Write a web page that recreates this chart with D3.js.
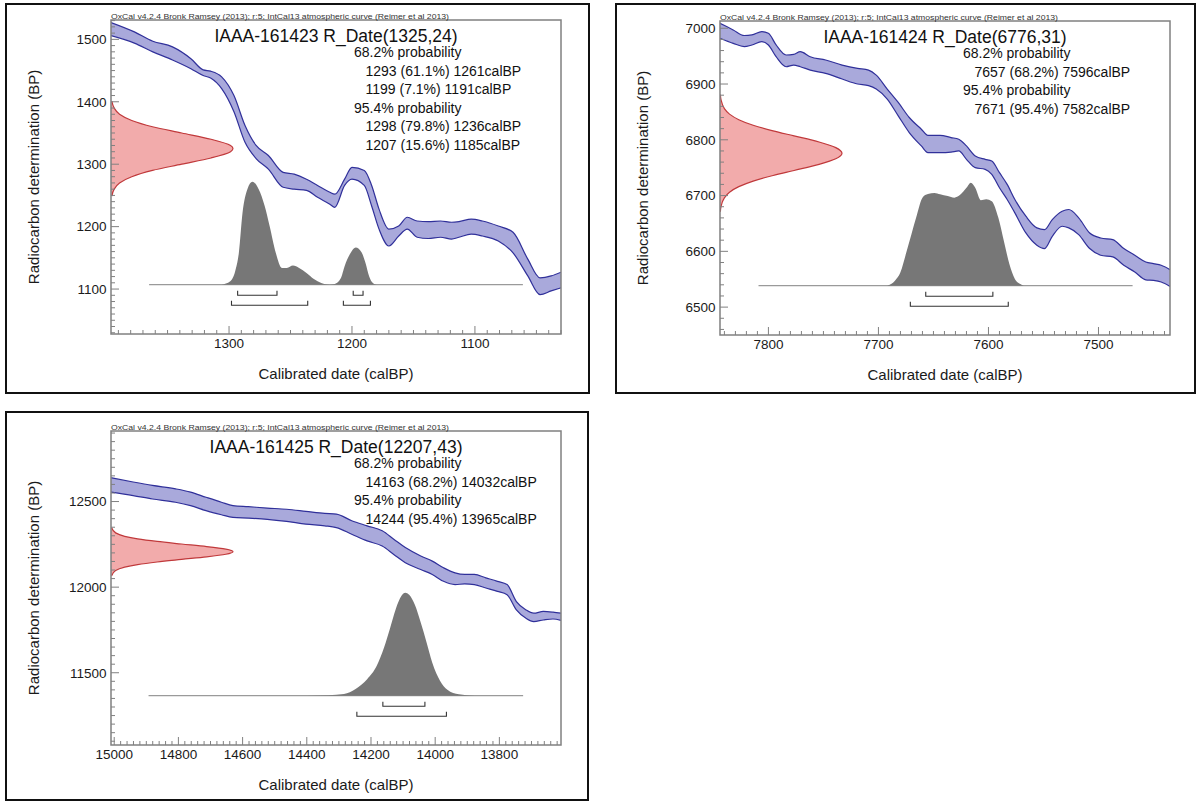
<!DOCTYPE html>
<html><head><meta charset="utf-8">
<script src="https://cdn.jsdelivr.net/npm/d3@7"></script>
<style>
body{margin:0;background:#fff;}
svg{display:block;font-family:"Liberation Sans",Arial,Helvetica,sans-serif;}
</style>
</head><body>
<svg id="chart" width="1198" height="801"></svg>
<script>
// ---------- shared texts ----------
const headerText = "OxCal v4.2.4 Bronk Ramsey (2013); r:5; IntCal13 atmospheric curve (Reimer et al 2013)";
const xAxisLabel = "Calibrated date (calBP)";
const yAxisLabel = "Radiocarbon determination (BP)";

// ---------- Panel 1 : IAAA-161423 ----------
const p1Title = "IAAA-161423 R_Date(1325,24)";
const p1Range68 = [[1293, 61.1, 1261], [1199, 7.1, 1191]];
const p1Range95 = [[1298, 79.8, 1236], [1207, 15.6, 1185]];
const p1XDomain = [1396, 1030];
const p1YDomain = [1028, 1531];
const p1XTicks = [1300, 1200, 1100];
const p1YTicks = [1100, 1200, 1300, 1400, 1500];
const p1CurveCal = [1396,1377,1362,1346,1331,1321,1315,1306,1296,1287,1278,1268,1256,1247,1237,1228,1218,1214,1206,1200,1190,1184,1178,1170,1162,1155,1147,1138,1128,1119,1113,1103,1094,1081,1069,1057,1047,1038,1030];
const p1CurveHi  = [1527,1512,1497,1488,1469,1451,1449,1440,1410,1362,1330,1314,1287,1284,1276,1266,1255,1252,1276,1295,1290,1266,1228,1196,1201,1215,1209,1208,1209,1207,1208,1212,1209,1201,1191,1148,1118,1121,1127];
const p1CurveLo  = [1506,1494,1480,1467,1453,1442,1438,1421,1384,1335,1309,1292,1263,1260,1258,1247,1236,1231,1266,1276,1266,1233,1196,1169,1185,1196,1183,1181,1183,1180,1183,1188,1185,1177,1158,1121,1091,1097,1102];
const p1MeasBP   = [1401,1390,1380,1370,1360,1350,1340,1330,1325,1320,1310,1300,1290,1280,1270,1260,1249];
const p1MeasDens = [0.007,0.026,0.07,0.17,0.34,0.58,0.82,0.98,1,0.98,0.82,0.58,0.34,0.17,0.07,0.026,0.007];
const p1PostCal  = [1306,1299,1295,1292,1289,1285,1281,1276,1271,1267,1262,1257,1253,1248,1243,1237,1231,1225,1218,1214,1209,1206,1201,1197,1192,1189,1186,1183,1180];
const p1PostDens = [0,0.033,0.13,0.31,0.70,0.93,1.0,0.93,0.765,0.57,0.31,0.163,0.163,0.186,0.163,0.114,0.055,0.016,0,0.007,0.065,0.18,0.31,0.36,0.31,0.21,0.08,0.016,0];
const p1PostSpan = [1365, 1061];

// ---------- Panel 2 : IAAA-161424 ----------
const p2Title = "IAAA-161424 R_Date(6776,31)";
const p2Range68 = [[7657, 68.2, 7596]];
const p2Range95 = [[7671, 95.4, 7582]];
const p2XDomain = [7844, 7435];
const p2YDomain = [6450, 7013];
const p2XTicks = [7800, 7700, 7600, 7500];
const p2YTicks = [6500, 6600, 6700, 6800, 6900, 7000];
const p2CurveCal = [7844,7832,7822,7815,7806,7800,7793,7784,7777,7771,7762,7748,7733,7719,7709,7702,7692,7682,7672,7661,7655,7644,7634,7627,7620,7612,7603,7597,7590,7583,7576,7566,7556,7549,7542,7533,7527,7518,7508,7498,7487,7477,7467,7457,7450,7443,7435];
const p2CurveHi  = [7009,6997,6987,6988,6994,6991,6970,6952,6953,6958,6949,6943,6934,6928,6925,6916,6891,6867,6840,6819,6808,6808,6804,6801,6789,6771,6765,6762,6741,6720,6693,6663,6642,6639,6657,6672,6675,6660,6633,6624,6621,6605,6593,6581,6578,6575,6567];
const p2CurveLo  = [6982,6973,6967,6970,6976,6970,6949,6931,6934,6931,6925,6919,6909,6900,6897,6891,6873,6843,6813,6789,6777,6777,6778,6780,6765,6750,6747,6738,6714,6693,6669,6633,6611,6605,6627,6645,6642,6630,6605,6593,6590,6575,6563,6549,6548,6545,6537];
const p2MeasBP   = [6881,6871,6856,6846,6836,6826,6816,6807,6796,6786,6776,6766,6756,6745,6736,6726,6716,6706,6696,6681,6671];
const p2MeasDens = [0.003,0.009,0.036,0.078,0.154,0.272,0.435,0.607,0.812,0.949,1,0.949,0.812,0.607,0.435,0.272,0.154,0.078,0.036,0.009,0.003];
const p2PostCal  = [7692,7685,7680,7675,7670,7665,7660,7655,7649,7644,7637,7631,7626,7620,7616,7612,7607,7602,7597,7591,7586,7581,7576,7571,7568];
const p2PostDens = [0,0.048,0.13,0.31,0.50,0.69,0.855,0.89,0.90,0.887,0.87,0.855,0.88,0.95,1.0,0.95,0.83,0.84,0.82,0.66,0.435,0.21,0.065,0.016,0];
const p2PostSpan = [7809, 7469];

// ---------- Panel 3 : IAAA-161425 ----------
const p3Title = "IAAA-161425 R_Date(12207,43)";
const p3Range68 = [[14163, 68.2, 14032]];
const p3Range95 = [[14244, 95.4, 13965]];
const p3XDomain = [15010, 13608];
const p3YDomain = [11078, 12912];
const p3XTicks = [15000, 14800, 14600, 14400, 14200, 14000, 13800];
const p3YTicks = [11500, 12000, 12500];
const p3CurveCal = [15010,14941,14881,14809,14762,14714,14666,14630,14582,14523,14463,14403,14344,14308,14260,14212,14165,14129,14093,14045,14009,13974,13938,13908,13878,13842,13806,13776,13747,13717,13693,13663,13633,13608];
const p3CurveHi  = [12639,12614,12594,12574,12555,12525,12496,12476,12470,12462,12455,12443,12431,12427,12388,12358,12329,12280,12231,12182,12152,12113,12083,12074,12074,12054,12034,12015,11916,11867,11848,11858,11854,11848];
const p3CurveLo  = [12555,12535,12515,12496,12476,12447,12423,12407,12403,12396,12384,12368,12358,12348,12309,12270,12240,12191,12142,12103,12074,12034,12015,12019,12015,11995,11975,11956,11867,11818,11799,11808,11814,11806];
const p3MeasBP   = [12347,12317,12297,12282,12267,12252,12237,12222,12207,12192,12177,12162,12147,12132,12117,12097,12067];
const p3MeasDens = [0.005,0.038,0.112,0.218,0.378,0.578,0.784,0.941,1,0.941,0.784,0.578,0.378,0.218,0.112,0.038,0.005];
const p3PostCal  = [14400,14332,14284,14248,14212,14182,14159,14141,14123,14105,14093,14081,14063,14045,14027,14009,13985,13962,13926,13878];
const p3PostDens = [0,0.004,0.016,0.065,0.16,0.29,0.47,0.65,0.84,0.97,1.0,0.98,0.88,0.71,0.52,0.32,0.146,0.058,0.013,0];
const p3PostSpan = [14893, 13726];

// ---------- panel configuration ----------
const panels = [
  {title:p1Title, r68:p1Range68, r95:p1Range95, xDomain:p1XDomain, yDomain:p1YDomain,
   xTicks:p1XTicks, yTicks:p1YTicks, xMinor:10, yMinor:10,
   curveCal:p1CurveCal, curveHi:p1CurveHi, curveLo:p1CurveLo,
   measBP:p1MeasBP, measDens:p1MeasDens, postCal:p1PostCal, postDens:p1PostDens, postSpan:p1PostSpan,
   outer:[6,4,589,393], plot:[111,20,561,334]},
  {title:p2Title, r68:p2Range68, r95:p2Range95, xDomain:p2XDomain, yDomain:p2YDomain,
   xTicks:p2XTicks, yTicks:p2YTicks, xMinor:10, yMinor:20,
   curveCal:p2CurveCal, curveHi:p2CurveHi, curveLo:p2CurveLo,
   measBP:p2MeasBP, measDens:p2MeasDens, postCal:p2PostCal, postDens:p2PostDens, postSpan:p2PostSpan,
   outer:[616,4,1195,393], plot:[720,21,1170,335]},
  {title:p3Title, r68:p3Range68, r95:p3Range95, xDomain:p3XDomain, yDomain:p3YDomain,
   xTicks:p3XTicks, yTicks:p3YTicks, xMinor:20, yMinor:50,
   curveCal:p3CurveCal, curveHi:p3CurveHi, curveLo:p3CurveLo,
   measBP:p3MeasBP, measDens:p3MeasDens, postCal:p3PostCal, postDens:p3PostDens, postSpan:p3PostSpan,
   outer:[6,412,588,800], plot:[111,431,561,745]}
];

const svg = d3.select("#chart");
svg.append("rect").attr("width",1198).attr("height",801).attr("fill","#fff");

function fmtRange(r){ return r[0] + " (" + r[1].toFixed(1) + "%) " + r[2] + "calBP"; }

panels.forEach((p, idx) => {
  const [L,T,R,B] = p.plot;
  const x = d3.scaleLinear().domain(p.xDomain).range([L,R]);
  const y = d3.scaleLinear().domain(p.yDomain).range([B,T]);
  const g = svg.append("g");

  // outer frame
  g.append("rect")
    .attr("x",p.outer[0]).attr("y",p.outer[1])
    .attr("width",p.outer[2]-p.outer[0]).attr("height",p.outer[3]-p.outer[1])
    .attr("fill","none").attr("stroke","#111").attr("stroke-width",2);

  const clipId = "clip"+idx;
  g.append("clipPath").attr("id",clipId).append("rect")
    .attr("x",L).attr("y",T).attr("width",R-L).attr("height",B-T);
  const inner = g.append("g").attr("clip-path","url(#"+clipId+")");

  // posterior (calibrated) distribution
  const baseY = T + 0.843*(B-T);
  const hScale = d3.scaleLinear().domain([0,1]).range([baseY, baseY-103]);
  inner.append("line")
    .attr("x1",x(p.postSpan[0])).attr("x2",x(p.postSpan[1]))
    .attr("y1",baseY).attr("y2",baseY)
    .attr("stroke","#9a9a9a").attr("stroke-width",1.2);
  const post = p.postCal.map((c,i)=>({c:c, d:p.postDens[i]}));
  inner.append("path").datum(post)
    .attr("d", d3.area().x(d=>x(d.c)).y0(baseY).y1(d=>hScale(d.d)).curve(d3.curveMonotoneX))
    .attr("fill","#777777");

  // probability range brackets
  function bracket(ranges, off){
    ranges.forEach(r=>{
      const x1 = x(r[0]), x2 = x(r[2]);
      const yy = baseY + off;
      g.append("path")
        .attr("d", `M${x1},${yy-4.5}V${yy}H${x2}V${yy-4.5}`)
        .attr("fill","none").attr("stroke","#333").attr("stroke-width",1.1);
    });
  }
  bracket(p.r68, 10.5);
  bracket(p.r95, 20.5);

  // calibration curve band
  const band = p.curveCal.map((c,i)=>({c:c, hi:p.curveHi[i], lo:p.curveLo[i]}));
  const crv = d3.curveMonotoneX;
  inner.append("path").datum(band)
    .attr("d", d3.area().x(d=>x(d.c)).y0(d=>y(d.lo)).y1(d=>y(d.hi)).curve(crv))
    .attr("fill","#a9a9db");
  inner.append("path").datum(band)
    .attr("d", d3.line().x(d=>x(d.c)).y(d=>y(d.hi)).curve(crv))
    .attr("fill","none").attr("stroke","#30309a").attr("stroke-width",1.2);
  inner.append("path").datum(band)
    .attr("d", d3.line().x(d=>x(d.c)).y(d=>y(d.lo)).curve(crv))
    .attr("fill","none").attr("stroke","#30309a").attr("stroke-width",1.2);

  // radiocarbon measurement distribution
  const wScale = d3.scaleLinear().domain([0,1]).range([L, L+122]);
  const meas = p.measBP.map((b,i)=>({b:b, d:p.measDens[i]}));
  inner.append("path").datum(meas)
    .attr("d", d3.area().y(d=>y(d.b)).x0(L).x1(d=>wScale(d.d)).curve(d3.curveMonotoneY))
    .attr("fill","#f2abab");
  inner.append("path").datum(meas)
    .attr("d", d3.line().y(d=>y(d.b)).x(d=>wScale(d.d)).curve(d3.curveMonotoneY))
    .attr("fill","none").attr("stroke","#c0393b").attr("stroke-width",1.2);

  // plot box
  g.append("rect").attr("x",L).attr("y",T).attr("width",R-L).attr("height",B-T)
    .attr("fill","none").attr("stroke","#808080").attr("stroke-width",1.5);

  // x ticks (pointing inward)
  const xMin = Math.min(...p.xDomain), xMax = Math.max(...p.xDomain);
  const xMinorVals = d3.range(Math.ceil(xMin/p.xMinor)*p.xMinor, xMax+0.001, p.xMinor);
  g.selectAll(null).data(xMinorVals).enter().append("line")
    .attr("x1",d=>x(d)).attr("x2",d=>x(d))
    .attr("y1",B).attr("y2",d=> p.xTicks.includes(d) ? B-8 : B-4)
    .attr("stroke","#808080").attr("stroke-width",1);
  g.selectAll(null).data(p.xTicks).enter().append("text")
    .attr("x",d=>x(d)).attr("y",B+13.5)
    .attr("text-anchor","middle").attr("font-size",13.5).attr("fill","#1a1a1a")
    .text(d=>d);

  // y ticks (pointing inward)
  const yMin = p.yDomain[0], yMax = p.yDomain[1];
  const yMinorVals = d3.range(Math.ceil(yMin/p.yMinor)*p.yMinor, yMax+0.001, p.yMinor);
  g.selectAll(null).data(yMinorVals).enter().append("line")
    .attr("y1",d=>y(d)).attr("y2",d=>y(d))
    .attr("x1",L).attr("x2",d=> p.yTicks.includes(d) ? L+8 : L+4)
    .attr("stroke","#808080").attr("stroke-width",1);
  g.selectAll(null).data(p.yTicks).enter().append("text")
    .attr("x",L-4.5).attr("y",d=>y(d)).attr("dy","0.36em")
    .attr("text-anchor","end").attr("font-size",13.5).attr("fill","#1a1a1a")
    .text(d=>d);

  // axis labels
  g.append("text").attr("x",(L+R)/2).attr("y",B+45)
    .attr("text-anchor","middle").attr("font-size",15).attr("fill","#1a1a1a")
    .text(xAxisLabel);
  g.append("text")
    .attr("transform",`translate(${L-77},${(T+B)/2}) rotate(-90)`)
    .attr("text-anchor","middle").attr("dy","0.36em").attr("font-size",15).attr("fill","#1a1a1a")
    .text(yAxisLabel);

  // header
  g.append("text").attr("x",L).attr("y",T-1.5)
    .attr("font-size",7.5).attr("fill","#333")
    .attr("textLength",338).attr("lengthAdjust","spacingAndGlyphs")
    .text(headerText);

  // title
  g.append("text").attr("x",(L+R)/2).attr("y",T+21.5)
    .attr("text-anchor","middle").attr("font-size",17.5).attr("fill","#111")
    .text(p.title);

  // probability text
  const lines = [];
  lines.push({t:"68.2% probability", ind:0});
  p.r68.forEach(r=>lines.push({t:fmtRange(r), ind:1}));
  lines.push({t:"95.4% probability", ind:0});
  p.r95.forEach(r=>lines.push({t:fmtRange(r), ind:1}));
  g.selectAll(null).data(lines).enter().append("text")
    .attr("x",d=> L + (d.ind ? 254.5 : 243))
    .attr("y",(d,i)=> T + 37 + i*18.6)
    .attr("font-size",14).attr("fill","#111")
    .text(d=>d.t);
});
</script>
</body></html>
